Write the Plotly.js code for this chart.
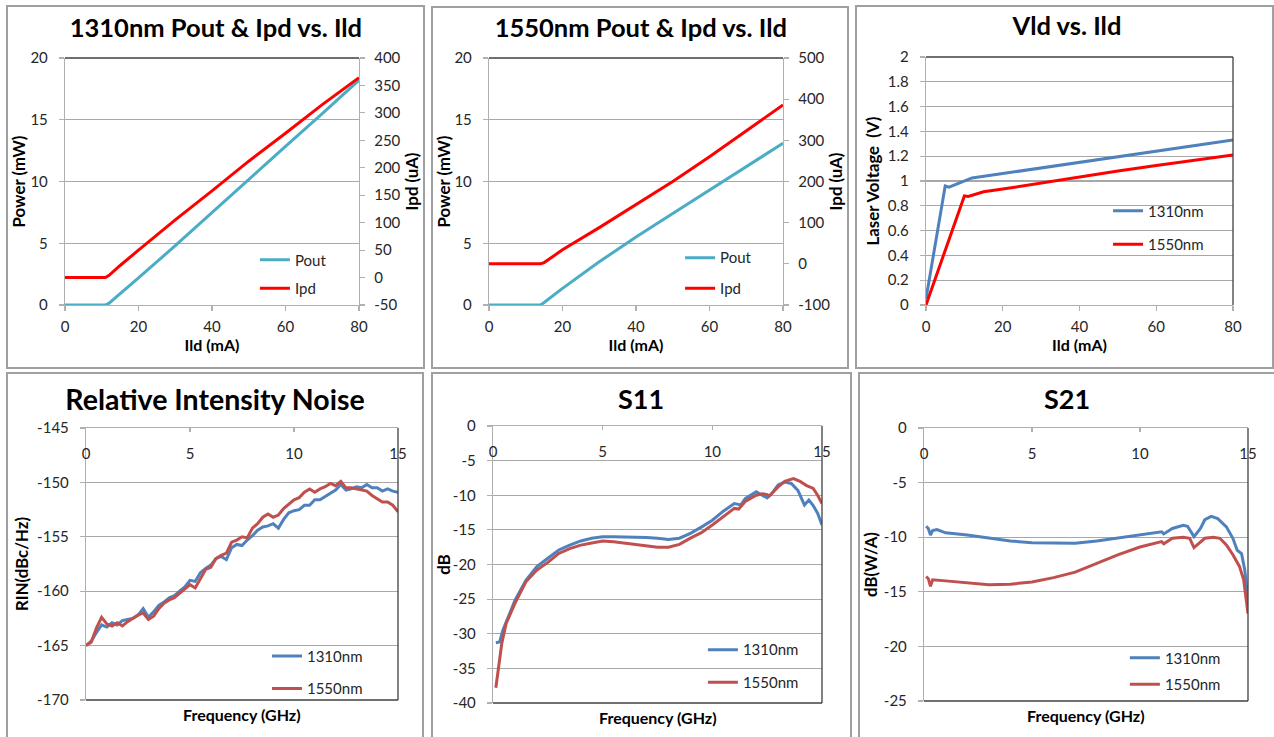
<!DOCTYPE html>
<html><head><meta charset="utf-8">
<script src="https://cdn.plot.ly/plotly-3.0.1.min.js"></script>
<style>
html,body{margin:0;padding:0;background:#fff;width:1274px;height:737px;overflow:hidden;}
.panel{position:absolute;box-sizing:border-box;border:2px solid #a0a0a0;background:#fff;overflow:hidden;}
.panel>div{position:absolute;left:0;top:0;}
</style></head><body>
<div class="panel" style="left:6px;top:5px;width:419px;height:364px"><div id="c1" style="width:415px;height:360px"></div></div>
<div class="panel" style="left:431px;top:6px;width:418px;height:363px"><div id="c2" style="width:414px;height:359px"></div></div>
<div class="panel" style="left:855px;top:5px;width:419px;height:364px"><div id="c3" style="width:415px;height:360px"></div></div>
<div class="panel" style="left:6px;top:372px;width:418px;height:368px"><div id="c4" style="width:414px;height:364px"></div></div>
<div class="panel" style="left:431px;top:372px;width:421px;height:368px"><div id="c5" style="width:417px;height:364px"></div></div>
<div class="panel" style="left:858px;top:372px;width:418px;height:368px"><div id="c6" style="width:414px;height:364px"></div></div>
<script>
// ---------- data ----------
const ild1310 = [0, 5, 11, 12, 15, 20, 30, 40, 50, 60, 70, 80];
const pout1310 = [0, 0, 0, 0.15, 0.9, 2.2, 4.8, 7.5, 10.15, 12.85, 15.5, 18.2];
const ipd1310 = [0, 0, 0, 4, 22, 50, 105, 158, 212, 263, 315, 364];

const ild1550 = [0, 5, 10, 14, 15, 20, 30, 40, 50, 60, 70, 80];
const pout1550 = [0, 0, 0, 0, 0.2, 1.35, 3.5, 5.5, 7.4, 9.3, 11.2, 13.1];
const ipd1550 = [0, 0, 0, 0, 3, 34, 88, 143, 200, 260, 322, 386];

const ildV1310 = [0, 5, 6, 12, 20, 30, 40, 50, 60, 70, 80];
const vld1310 = [0.05, 0.96, 0.95, 1.025, 1.06, 1.105, 1.15, 1.195, 1.24, 1.285, 1.33];
const ildV1550 = [0, 10, 11, 15, 20, 30, 40, 50, 60, 70, 80];
const vld1550 = [0, 0.88, 0.875, 0.913, 0.935, 0.985, 1.035, 1.08, 1.125, 1.17, 1.21];

const rinFreq = [0,0.25,0.5,0.75,1,1.25,1.5,1.75,2,2.25,2.5,2.75,3,3.25,3.5,3.75,4,4.25,4.5,4.75,5,5.25,5.5,5.75,6,6.25,6.5,6.75,7,7.25,7.5,7.75,8,8.25,8.5,8.75,9,9.25,9.5,9.75,10,10.25,10.5,10.75,11,11.25,11.5,11.75,12,12.25,12.5,12.75,13,13.25,13.5,13.75,14,14.25,14.5,14.75,15];
const rin1310 = [-165.0,-164.6,-163.8,-163.1,-163.3,-162.9,-163.1,-162.7,-162.6,-162.5,-162.2,-161.6,-162.4,-161.9,-161.3,-161.0,-160.6,-160.4,-160.0,-159.6,-159.0,-159.1,-158.3,-157.9,-157.6,-157.0,-156.8,-157.1,-156.0,-155.7,-155.8,-155.3,-154.9,-154.4,-154.1,-154.0,-153.8,-154.2,-153.4,-152.8,-152.6,-152.5,-152.1,-152.1,-151.6,-151.6,-151.3,-151.0,-150.7,-150.2,-150.7,-150.6,-150.4,-150.5,-150.2,-150.5,-150.5,-150.8,-150.6,-150.8,-150.9];
const rin1550 = [-165.0,-164.7,-163.4,-162.4,-163.0,-163.2,-162.9,-163.2,-162.8,-162.5,-162.2,-162.0,-162.6,-162.3,-161.6,-161.1,-160.8,-160.6,-160.2,-159.8,-159.4,-159.7,-158.9,-158.0,-157.8,-157.0,-156.7,-156.5,-155.5,-155.3,-155.0,-155.1,-154.2,-153.8,-153.2,-152.9,-153.2,-153.0,-152.4,-152.0,-151.6,-151.4,-150.9,-150.6,-150.9,-150.6,-150.4,-150.1,-150.3,-149.9,-150.5,-150.5,-150.6,-150.7,-150.8,-151.2,-151.5,-151.8,-151.8,-152.1,-152.7];

const s11Freq1310 = [0.13,0.3,0.45,0.7,1,1.5,2,2.5,3,3.5,4,4.5,5,5.5,6,6.5,7,7.5,8,8.5,9,9.5,10,10.5,11,11.3,11.5,12,12.2,12.5,12.7,13,13.3,13.6,13.9,14.2,14.4,14.6,14.8,15];
const s11_1310 = [-31.3,-31.2,-29.5,-27.6,-25.2,-22.3,-20.3,-19.1,-17.9,-17.2,-16.6,-16.2,-16.0,-16.0,-16.0,-16.1,-16.1,-16.2,-16.4,-16.2,-15.5,-14.6,-13.6,-12.3,-11.2,-11.4,-10.5,-9.5,-9.9,-10.4,-9.8,-8.5,-8.1,-8.3,-9.3,-11.4,-10.7,-11.5,-12.6,-14.3];
const s11Freq1550 = [0.13,0.25,0.4,0.6,1,1.5,2,2.5,3,3.5,4,4.5,5,5.5,6,6.5,7,7.5,8,8.5,9,9.5,10,10.5,11,11.2,11.5,12,12.3,12.5,12.6,13,13.3,13.7,14,14.3,14.6,14.8,15];
const s11_1550 = [-37.8,-35.0,-31.4,-28.5,-25.6,-22.5,-20.8,-19.7,-18.4,-17.7,-17.2,-16.9,-16.6,-16.7,-16.9,-17.0,-17.2,-17.5,-17.5,-17.1,-16.2,-15.4,-14.3,-13.1,-11.9,-12.0,-10.9,-10.0,-9.8,-9.9,-10.1,-8.8,-8.0,-7.6,-8.0,-8.6,-9.0,-10.0,-11.2];

const s21Freq1310 = [0.1,0.2,0.3,0.4,0.6,1,2,3,4,5,6,7,8,9,10,11,11.1,11.5,12,12.2,12.5,12.8,13,13.3,13.6,14,14.3,14.5,14.7,14.85,15];
const s21_1310 = [-9.0,-9.2,-9.8,-9.4,-9.3,-9.6,-9.8,-10.1,-10.35,-10.5,-10.55,-10.55,-10.35,-10.05,-9.8,-9.5,-9.7,-9.2,-8.9,-9.0,-9.95,-9.2,-8.4,-8.1,-8.3,-9.05,-10.1,-11.2,-11.5,-13.0,-15.8];
const s21Freq1550 = [0.1,0.2,0.3,0.4,1,2,3,4,5,6,7,8,9,10,11,11.1,11.5,12,12.3,12.5,12.8,13,13.4,13.7,14,14.3,14.6,14.8,15];
const s21_1550 = [-13.6,-13.8,-14.5,-13.9,-14.0,-14.2,-14.35,-14.3,-14.1,-13.7,-13.2,-12.4,-11.6,-10.9,-10.4,-10.6,-10.1,-10.0,-10.1,-10.95,-10.4,-10.1,-10.0,-10.1,-10.7,-11.6,-12.65,-13.9,-17.0];

// tick label values (written with a plain hyphen like the original)
const ipd1310Ticks = [-50, 0, 50, 100, 150, 200, 250, 300, 350, 400];
const ipd1550Ticks = [-100, 0, 100, 200, 300, 400, 500];
const rinTicks = [-170, -165, -160, -155, -150, -145];
const s11Ticks = [-40, -35, -30, -25, -20, -15, -10, -5, 0];
const s21Ticks = [-25, -20, -15, -10, -5, 0];

// ---------- styles ----------
const FAM = 'Lato, "Open Sans", sans-serif';
const AX = '#b0b0b0', GRID = '#a8a8a8', DARK = '#404040', TXT = '#262626';
const C_AQUA = '#4bacc6', C_RED = '#ff0000', C_BLUE = '#4f81bd', C_BRICK = '#c0504d';
const TICK = 15, ATF = 16, YTF = 16.8;
const cfg = {staticPlot: true, displayModeBar: false};

function tr(x, y, name, color, extra) {
  return Object.assign({x: x, y: y, name: name, type: 'scatter', mode: 'lines',
    line: {color: color, width: 3}, legendgroup: name}, extra || {});
}
function axis(o) {
  return Object.assign({showline: true, linecolor: AX, linewidth: 1.2, ticks: 'outside', ticklen: 5,
    tickcolor: AX, tickwidth: 1.2, showgrid: false, zeroline: false, fixedrange: true,
    tickfont: {family: FAM, size: TICK, color: TXT}}, o);
}
function hy(vals) { return {tickmode: 'array', tickvals: vals, ticktext: vals.map(String)}; }
function atitle(text, standoff, size) {
  return {text: text, standoff: standoff, font: {family: FAM, size: size || ATF, weight: 700, color: '#000'}};
}
function legend(x, y, gap) {
  return {x: x, y: y, xanchor: 'left', yanchor: 'middle', traceorder: 'grouped', tracegroupgap: gap,
    bgcolor: 'rgba(0,0,0,0)', font: {family: FAM, size: 15, color: TXT}};
}
function title(text, x, y, size) {
  return {text: text, x: x, xref: 'container', y: y, yref: 'container', xanchor: 'center', yanchor: 'middle',
    font: {family: FAM, size: size, weight: 700, color: '#000'}};
}
function hline(y) { return {type: 'line', xref: 'paper', yref: 'paper', x0: 0, x1: 1, y0: y, y1: y, line: {color: DARK, width: 1.3}}; }
function vline(x) { return {type: 'line', xref: 'paper', yref: 'paper', x0: x, x1: x, y0: 0, y1: 1, line: {color: DARK, width: 1.3}}; }
function base(w, h, m) {
  return {width: w, height: h, margin: m, paper_bgcolor: '#fff', plot_bgcolor: '#fff',
    font: {family: FAM, size: 15, color: TXT}, showlegend: true};
}

// ---------- chart 1 ----------
Plotly.newPlot('c1', [
  tr(ild1310, pout1310, 'Pout', C_AQUA),
  tr(ild1310, ipd1310, 'Ipd', C_RED, {yaxis: 'y2'})
], Object.assign(base(415, 360, {l: 57, r: 64, t: 51, b: 62}), {
  title: title('1310nm Pout &amp; Ipd vs. Ild', 0.501, 0.942, 25.5),
  xaxis: axis({range: [0, 80], dtick: 20, tick0: 0, ticklabelstandoff: 3, title: atitle('Ild (mA)', 5)}),
  yaxis: axis({range: [0, 20], dtick: 5, tick0: 0, showgrid: true, gridcolor: GRID, gridwidth: 1.2, ticklabelstandoff: 8, title: atitle('Power (mW)', 3, YTF)}),
  yaxis2: axis(Object.assign({range: [-50, 400], overlaying: 'y', side: 'right', ticklabelstandoff: 6, title: atitle('Ipd (uA)', 3, YTF)}, hy(ipd1310Ticks))),
  legend: legend(0.646, 0.1255, 6),
  shapes: [hline(1)]
}), cfg);

// ---------- chart 2 ----------
Plotly.newPlot('c2', [
  tr(ild1550, pout1550, 'Pout', C_AQUA),
  tr(ild1550, ipd1550, 'Ipd', C_RED, {yaxis: 'y2'})
], Object.assign(base(414, 359, {l: 56, r: 64, t: 50, b: 62}), {
  title: title('1550nm Pout &amp; Ipd vs. Ild', 0.502, 0.944, 25.5),
  xaxis: axis({range: [0, 80], dtick: 20, tick0: 0, ticklabelstandoff: 3, title: atitle('Ild (mA)', 5)}),
  yaxis: axis({range: [0, 20], dtick: 5, tick0: 0, showgrid: true, gridcolor: GRID, gridwidth: 1.2, ticklabelstandoff: 8, title: atitle('Power (mW)', 1, YTF)}),
  yaxis2: axis(Object.assign({range: [-100, 500], overlaying: 'y', side: 'right', ticklabelstandoff: 6, title: atitle('Ipd (uA)', 0, YTF)}, hy(ipd1550Ticks))),
  legend: legend(0.65, 0.13, 8),
  shapes: [hline(1)]
}), cfg);

// ---------- chart 3 ----------
Plotly.newPlot('c3', [
  tr(ildV1310, vld1310, '1310nm', C_BLUE),
  tr(ildV1550, vld1550, '1550nm', C_RED)
], Object.assign(base(415, 360, {l: 69, r: 39, t: 50, b: 62}), {
  title: title('Vld vs. Ild', 0.506, 0.947, 25.5),
  xaxis: axis({range: [0, 80], dtick: 20, tick0: 0, ticklabelstandoff: 3, title: atitle('Ild (mA)', 5)}),
  yaxis: axis({range: [0, 2], dtick: 0.2, tick0: 0, showgrid: true, gridcolor: GRID, gridwidth: 1.2, ticklabelstandoff: 8, title: atitle('Laser Voltage&nbsp;&nbsp;(V)', 4, YTF)}),
  legend: legend(0.593, 0.312, 11),
  shapes: [hline(1), vline(1)]
}), cfg);

// ---------- bottom row helpers ----------
function topX() {
  return axis({range: [0, 15], dtick: 5, tick0: 0, side: 'top', ticks: 'inside', ticklen: 4,
    ticklabelposition: 'inside', ticklabeloverflow: 'allow', ticklabelstandoff: 16});
}
function xAnn(y) {
  return {text: 'Frequency (GHz)', xref: 'paper', yref: 'paper', x: 0.5, y: y, xanchor: 'center', yanchor: 'middle',
    showarrow: false, font: {family: FAM, size: ATF, weight: 700, color: '#000'}};
}

// ---------- chart 4 ----------
Plotly.newPlot('c4', [
  tr(rinFreq, rin1310, '1310nm', C_BLUE),
  tr(rinFreq, rin1550, '1550nm', C_BRICK)
], Object.assign(base(414, 364, {l: 78, r: 24, t: 54, b: 38}), {
  title: title('Relative Intensity Noise', 0.5, 0.929, 28.5),
  xaxis: topX(),
  yaxis: axis(Object.assign({range: [-170, -145], showgrid: true, gridcolor: GRID, gridwidth: 1.2, ticklabelstandoff: 8, title: atitle('RIN(dBc/Hz)', 4, YTF)}, hy(rinTicks))),
  legend: legend(0.58, 0.102, 10),
  annotations: [xAnn(-0.055)],
  shapes: [hline(0), vline(1)]
}), cfg);

// ---------- chart 5 ----------
Plotly.newPlot('c5', [
  tr(s11Freq1310, s11_1310, '1310nm', C_BLUE),
  tr(s11Freq1550, s11_1550, '1550nm', C_BRICK)
], Object.assign(base(417, 364, {l: 60, r: 28, t: 52, b: 35}), {
  title: title('S11', 0.499, 0.931, 27),
  xaxis: topX(),
  yaxis: axis(Object.assign({range: [-40, 0], showgrid: true, gridcolor: GRID, gridwidth: 1.2, ticklabelstandoff: 8, title: atitle('dB', 0, YTF)}, hy(s11Ticks))),
  legend: legend(0.638, 0.134, 10),
  annotations: [xAnn(-0.054)],
  shapes: [hline(0), vline(1)]
}), cfg);

// ---------- chart 6 ----------
Plotly.newPlot('c6', [
  tr(s21Freq1310, s21_1310, '1310nm', C_BLUE),
  tr(s21Freq1550, s21_1550, '1550nm', C_BRICK)
], Object.assign(base(414, 364, {l: 64, r: 26, t: 54, b: 37}), {
  title: title('S21', 0.5, 0.931, 27),
  xaxis: topX(),
  yaxis: axis(Object.assign({range: [-25, 0], showgrid: true, gridcolor: GRID, gridwidth: 1.2, ticklabelstandoff: 8, title: atitle('dB(W/A)', 2, YTF)}, hy(s21Ticks))),
  legend: legend(0.62, 0.11, 4),
  annotations: [xAnn(-0.054)],
  shapes: [hline(0), vline(1)]
}), cfg);
</script>
</body></html>
